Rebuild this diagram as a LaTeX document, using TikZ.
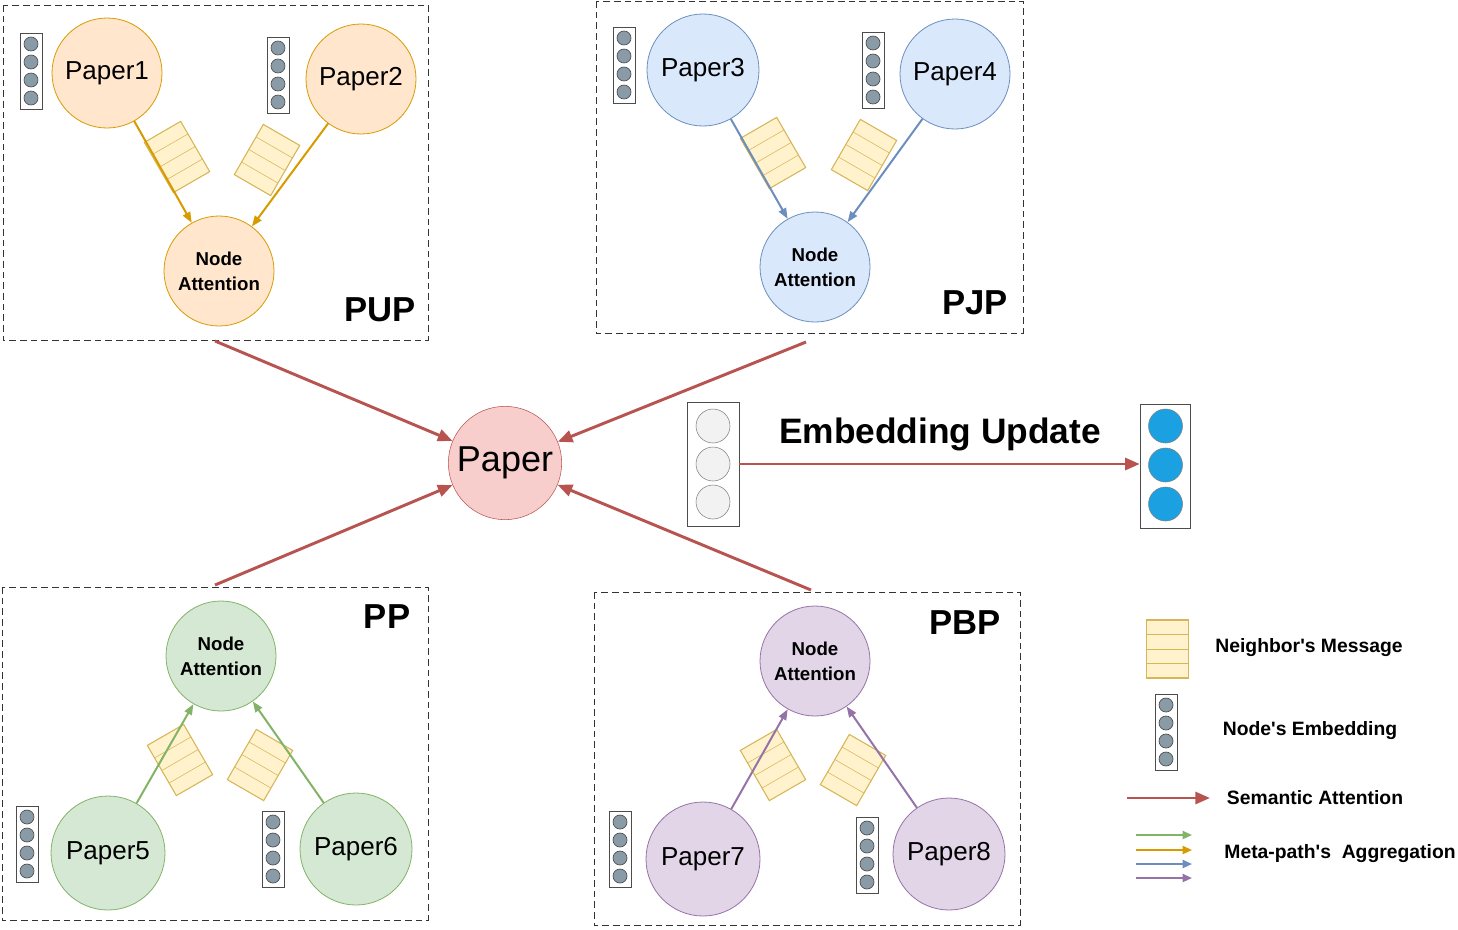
\documentclass[tikz,border=0pt]{standalone}
\usepackage{fontspec}
\setmainfont{Liberation Sans}
\usetikzlibrary{arrows.meta}
\definecolor{oF}{HTML}{FFE6CC}\definecolor{oS}{HTML}{D79B00}
\definecolor{bF}{HTML}{DAE8FC}\definecolor{bS}{HTML}{6C8EBF}
\definecolor{gF}{HTML}{D5E8D4}\definecolor{gS}{HTML}{82B366}
\definecolor{pF}{HTML}{E1D5E7}\definecolor{pS}{HTML}{9673A6}
\definecolor{rF}{HTML}{F8CECC}\definecolor{rS}{HTML}{B85450}
\definecolor{mF}{HTML}{FFF2CC}\definecolor{mS}{HTML}{D6B656}
\definecolor{eF}{HTML}{8A9BA8}\definecolor{uF}{HTML}{1BA1E2}
\newcommand{\msgicon}[3]{\begin{scope}[shift={(#1,#2)},rotate=#3]
 \draw[mS,fill=mF,line width=0.8pt] (-21,-29) rectangle (21,29);
 \draw[mS,line width=0.4pt] (-21,-14.5)--(21,-14.5) (-21,0)--(21,0) (-21,14.5)--(21,14.5);
\end{scope}}
\newcommand{\embicon}[2]{\begin{scope}[shift={(#1,#2)}]
 \draw[black!70,fill=white,line width=0.6pt] (0,0) rectangle (22,76);
 \foreach \k in {0,1,2,3}{\draw[black!70,fill=eF,line width=0.5pt] (11,11+\k*18) circle (7);}
\end{scope}}
\begin{document}
\begin{tikzpicture}[x=0.75pt,y=-0.75pt,
 pap/.style={circle,minimum size=#1*0.75pt,inner sep=0pt,font=\fontsize{19.5}{22}\selectfont,line width=0.6pt},
 na/.style={circle,minimum size=82.5pt,inner sep=0pt,align=center,font=\bfseries\fontsize{14}{18.5}\selectfont,line width=0.6pt},
 box/.style={draw=black!80,dash pattern=on 5pt off 3pt,line width=0.6pt},
 lab/.style={font=\bfseries\fontsize{26}{28}\selectfont},
 leg/.style={font=\bfseries\fontsize{14.5}{16}\selectfont},
 red/.style={rS,line width=2.2pt,-{Triangle[length=11pt,width=9pt]}},
 agg/.style={#1,line width=1.5pt,-{Triangle[length=8pt,width=6pt]}}]
\useasboundingbox (0,0) rectangle (1458,929);
% boxes
\draw[box] (3,5) rectangle (428,340);
\draw[box] (596,1) rectangle (1023,333);
\draw[box] (2,587) rectangle (428,920);
\draw[box] (594,592) rectangle (1020,925);
\node[lab] (lpup) at (380,310) {PUP};
\node[lab] (lpjp) at (975,303) {PJP};
\node[lab] (lpp) at (387,617) {PP};
\node[lab] (lpbp) at (965,623) {PBP};
% PUP
\node[pap=110,draw=oS,fill=oF] (p1) at (107,73) {Paper1};
\node[pap=110,draw=oS,fill=oF] (p2) at (361,79) {Paper2};
\node[na,draw=oS,fill=oF] (na1) at (219,271) {Node\\Attention};
\embicon{20}{33}\embicon{267}{37}
\msgicon{177}{157}{30}\msgicon{267}{160}{-30}
\draw[agg=oS] (p1) -- (na1);
\draw[agg=oS] (p2) -- (na1);
% PJP
\node[pap=112,draw=bS,fill=bF] (p3) at (703,70) {Paper3};
\node[pap=110,draw=bS,fill=bF] (p4) at (955,74) {Paper4};
\node[na,draw=bS,fill=bF] (na2) at (815,267) {Node\\Attention};
\embicon{613}{27}\embicon{862}{32}
\msgicon{773}{153}{30}\msgicon{864}{155}{-30}
\draw[agg=bS] (p3) -- (na2);
\draw[agg=bS] (p4) -- (na2);
% PP
\node[na,draw=gS,fill=gF] (na3) at (221,656) {Node\\Attention};
\node[pap=114,draw=gS,fill=gF] (p5) at (108,853) {Paper5};
\node[pap=112,draw=gS,fill=gF] (p6) at (356,849) {Paper6};
\embicon{16}{806}\embicon{262}{811}
\msgicon{180}{760}{30}\msgicon{260}{765}{-30}
\draw[agg=gS] (p5) -- (na3);
\draw[agg=gS] (p6) -- (na3);
% PBP
\node[na,draw=pS,fill=pF] (na4) at (815,661) {Node\\Attention};
\node[pap=114,draw=pS,fill=pF] (p7) at (703,859) {Paper7};
\node[pap=112,draw=pS,fill=pF] (p8) at (949,854) {Paper8};
\embicon{609}{811}\embicon{856}{817}
\msgicon{773}{765}{30}\msgicon{853}{770}{-30}
\draw[agg=pS] (p7) -- (na4);
\draw[agg=pS] (p8) -- (na4);
% center
\node[circle,minimum size=85pt,inner sep=0pt,draw=rS,fill=rF,font=\fontsize{27}{30}\selectfont] (paper) at (505,463) {Paper};
\coordinate (s1) at (215,341);
\coordinate (s2) at (806,342);
\coordinate (s3) at (215,585);
\coordinate (s4) at (811,590);
\draw[red] (s1) -- (paper);
\draw[red] (s2) -- (paper);
\draw[red] (s3) -- (paper);
\draw[red] (s4) -- (paper);
% embedding update
\node[draw=black!70,fill=white,minimum width=39pt,minimum height=93pt,inner sep=0pt,line width=0.6pt] (eold) at (713,464) {};
\foreach \k in {-1,0,1}{\draw[black!50,fill=black!5] (713,464+\k*38) circle (17);}
\node[draw=black!70,fill=white,minimum width=38pt,minimum height=93pt,inner sep=0pt,line width=0.6pt] (enew) at (1165.5,466) {};
\foreach \k in {-1,0,1}{\draw[black!50,fill=uF] (1165.5,465+\k*39) circle (17);}
\draw[red] (eold) -- (enew.west|-eold);
\node[font=\bfseries\fontsize{26.5}{28}\selectfont] (eu) at (940,434) {Embedding Update};
% legend
\msgicon{1167.5}{649}{0}
\node[leg] (l1) at (1309,648) {Neighbor\textquotesingle s Message};
\embicon{1155}{694}
\node[leg] (l2) at (1310,731) {Node\textquotesingle s Embedding};
\coordinate (ra) at (1127,798); \coordinate (rb) at (1210,798);
\draw[red] (ra) -- (rb);
\node[leg] (l3) at (1315,798) {Semantic Attention};
\foreach \c/\yy [count=\i] in {gS/835,oS/850,bS/864,pS/878}{
 \coordinate (ga\i) at (1136,\yy); \coordinate (gb\i) at (1192,\yy);
 \draw[\c,line width=1.5pt,-{Triangle[length=7pt,width=6pt]}] (ga\i) -- (gb\i);}
\node[leg] (l4) at (1340,854) {Meta-path\textquotesingle s\ \ Aggregation};
\end{tikzpicture}
\end{document}
